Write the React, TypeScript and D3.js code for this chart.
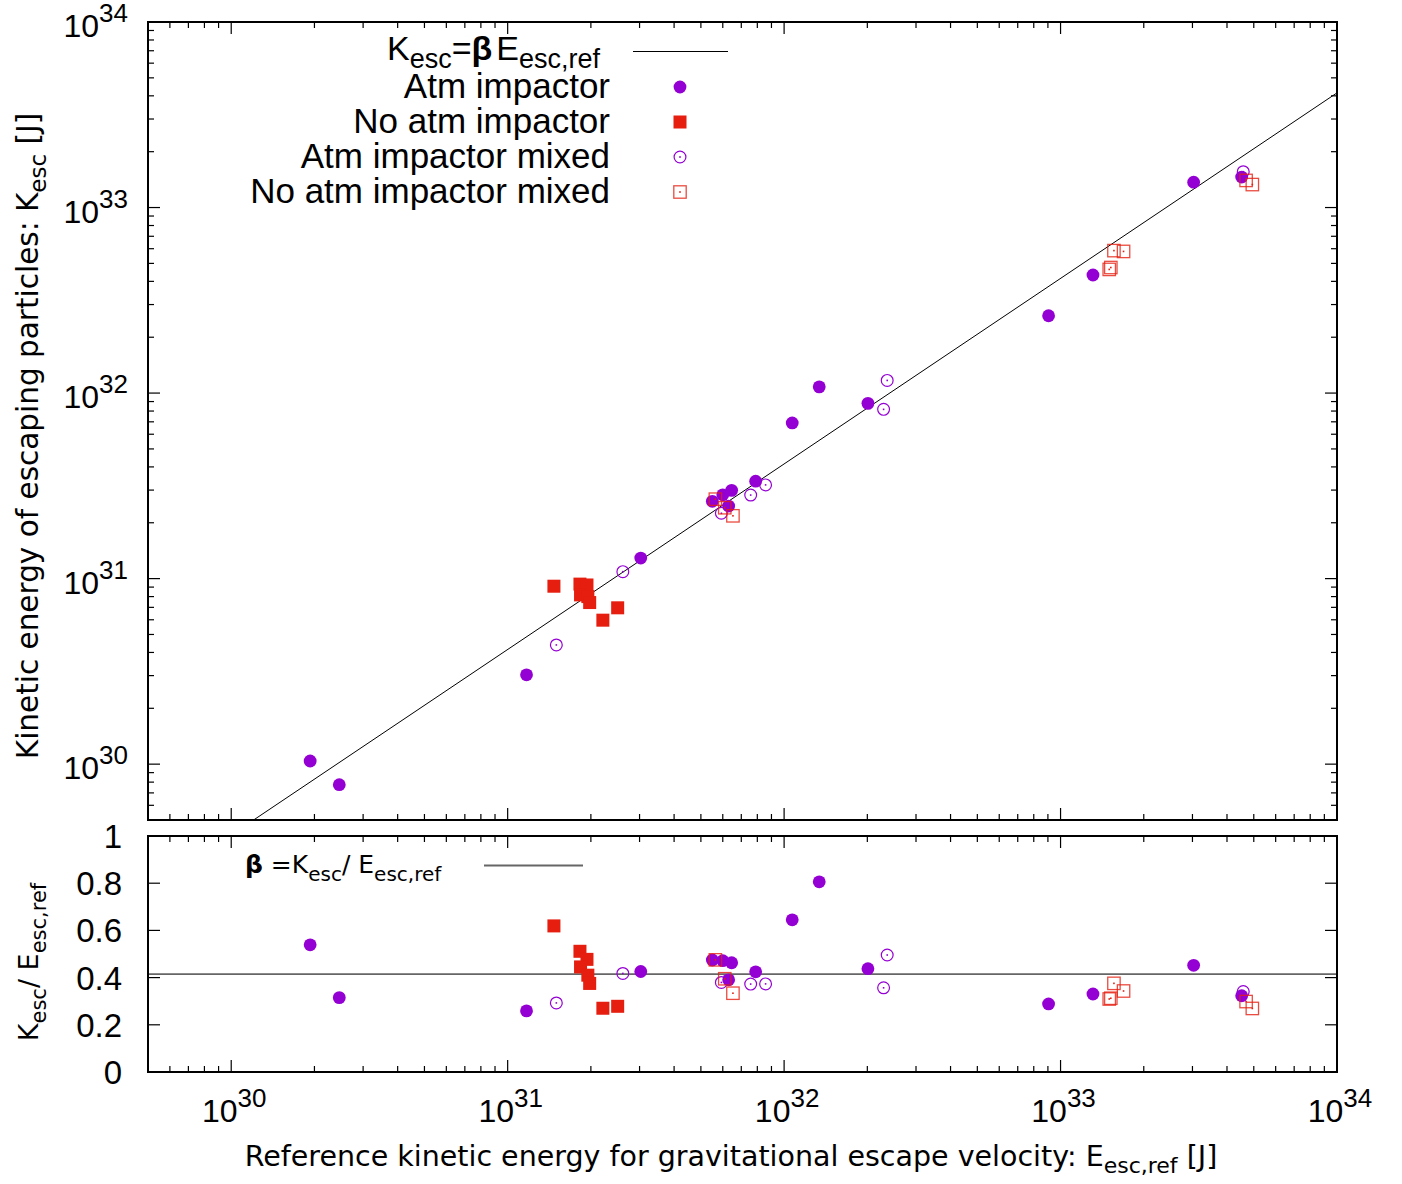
import React from "react";
import * as d3 from "d3";

// ---------- data ----------
const beta = 0.415;

const atmE = [1.93e30, 2.46e30, 1.17e31, 3.03e31, 5.5e31, 6.0e31, 6.46e31, 6.3e31, 7.89e31, 1.07e32, 1.34e32, 2.01e32, 9.05e32, 1.31e33, 3.03e33, 4.52e33];
const atmK = [1.04e30, 7.75e29, 3.03e30, 1.29e31, 2.61e31, 2.83e31, 2.99e31, 2.46e31, 3.35e31, 6.9e31, 1.08e32, 8.8e31, 2.61e32, 4.33e32, 1.37e33, 1.46e33];

const noAtmE = [1.47e31, 1.826e31, 1.936e31, 1.835e31, 1.95e31, 1.98e31, 2.21e31, 2.5e31];
const noAtmK = [9.1e30, 9.34e30, 9.24e30, 8.17e30, 8.0e30, 7.43e30, 5.97e30, 6.96e30];

const atmMixE = [1.5e31, 2.61e31, 5.93e31, 7.57e31, 8.57e31, 2.36e32, 2.29e32, 4.58e33];
const atmMixK = [4.39e30, 1.09e31, 2.25e31, 2.82e31, 3.2e31, 1.17e32, 8.17e31, 1.56e33];

const noAtmMixE = [5.64e31, 6.1e31, 6.53e31, 1.56e33, 1.69e33, 1.52e33, 1.5e33, 4.69e33, 4.94e33];
const noAtmMixK = [2.68e31, 2.41e31, 2.18e31, 5.86e32, 5.8e32, 4.75e32, 4.64e32, 1.4e33, 1.33e33];

const decadeExps = [30, 31, 32, 33, 34];
const ratioTicks = [0, 0.2, 0.4, 0.6, 0.8, 1];
const ratioTickLabels = ["0", "0.2", "0.4", "0.6", "0.8", "1"];

const legendLabels = ["Atm impactor", "No atm impactor", "Atm impactor mixed", "No atm impactor mixed"];

// ---------- layout ----------
const W = 1402, H = 1184;
const L = 148, R = 1337;
const T1 = 22, B1 = 820;
const T2 = 836, B2 = 1072;

const PURPLE = "#9400d3";
const RED = "#e51e10";
const TICKFONT = "'Liberation Sans', Arial, sans-serif";
const LABELFONT = "'DejaVu Sans', Verdana, sans-serif";

const x = d3.scaleLog().domain([5e29, 1e34]).range([L, R]);
const y = d3.scaleLog().domain([5e29, 1e34]).range([B1, T1]);
const yr = d3.scaleLinear().domain([0, 1]).range([B2, T2]);

const minorX: number[] = [];
for (let d = 29; d <= 33; d++) {
  for (let m = 2; m <= 9; m++) {
    const v = m * Math.pow(10, d);
    if (v >= 5e29 && v <= 1e34) minorX.push(v);
  }
}
const minorY = minorX;

const zip = (a: number[], b: number[]) => a.map((e, i) => ({ e, k: b[i] }));
const atm = zip(atmE, atmK);
const noAtm = zip(noAtmE, noAtmK);
const atmMix = zip(atmMixE, atmMixK);
const noAtmMix = zip(noAtmMixE, noAtmMixK);

const FilledCircle = ({ cx, cy }: { cx: number; cy: number }) => <circle cx={cx} cy={cy} r={6.4} fill={PURPLE} />;
const FilledSquare = ({ cx, cy }: { cx: number; cy: number }) => (
  <rect x={cx - 6.5} y={cy - 6.5} width={13} height={13} fill={RED} />
);
const OpenCircle = ({ cx, cy }: { cx: number; cy: number }) => (
  <g>
    <circle cx={cx} cy={cy} r={5.9} fill="none" stroke={PURPLE} strokeWidth={1.2} />
    <rect x={cx - 0.8} y={cy - 0.8} width={1.6} height={1.6} fill={PURPLE} />
  </g>
);
const OpenSquare = ({ cx, cy }: { cx: number; cy: number }) => (
  <g>
    <rect x={cx - 6.2} y={cy - 6.2} width={12.4} height={12.4} fill="none" stroke={RED} strokeWidth={1.3} strokeOpacity={0.8} />
    <rect x={cx - 0.8} y={cy - 0.8} width={1.6} height={1.6} fill={RED} />
  </g>
);

const Pow = ({ px, py, exp, anchor }: { px: number; py: number; exp: number; anchor: string }) => (
  <text x={px} y={py} textAnchor={anchor} fontFamily={TICKFONT} fontSize={32} fill="#000">
    <tspan>10</tspan>
    <tspan dy={-15} fontSize={26}>{exp}</tspan>
  </text>
);

function Markers({ pts, ratio, Comp }: { pts: { e: number; k: number }[]; ratio: boolean; Comp: any }) {
  return (
    <g>
      {pts.map((p, i) => (
        <Comp key={i} cx={x(p.e)} cy={ratio ? yr(p.k / p.e) : y(p.k)} />
      ))}
    </g>
  );
}

export default function App() {
  const lineE0 = 5e29 / beta;
  const fitLine = d3.line<number>()
    .x((e) => x(e))
    .y((e) => y(beta * e))([lineE0, 1e34]);

  const major = 12, minor = 6;

  return (
    <svg width={W} height={H} style={{ position: "absolute", left: 0, top: 0, background: "#fff" }}>
      <rect x={0} y={0} width={W} height={H} fill="#fff" />
      <defs>
        <clipPath id="c1"><rect x={L} y={T1} width={R - L} height={B1 - T1} /></clipPath>
        <clipPath id="c2"><rect x={L} y={T2} width={R - L} height={B2 - T2} /></clipPath>
      </defs>

      {/* ---------- ticks ---------- */}
      <g stroke="#000" strokeWidth={1.2}>
        {decadeExps.map((d) => {
          const px = x(Math.pow(10, d));
          return (
            <g key={"tx" + d}>
              <line x1={px} x2={px} y1={B1} y2={B1 - major} />
              <line x1={px} x2={px} y1={T1} y2={T1 + major} />
              <line x1={px} x2={px} y1={B2} y2={B2 - major} />
              <line x1={px} x2={px} y1={T2} y2={T2 + major} />
            </g>
          );
        })}
        {minorX.map((v, i) => {
          const px = x(v);
          return (
            <g key={"mx" + i}>
              <line x1={px} x2={px} y1={B1} y2={B1 - minor} />
              <line x1={px} x2={px} y1={T1} y2={T1 + minor} />
              <line x1={px} x2={px} y1={B2} y2={B2 - minor} />
              <line x1={px} x2={px} y1={T2} y2={T2 + minor} />
            </g>
          );
        })}
        {decadeExps.map((d) => {
          const py = y(Math.pow(10, d));
          return (
            <g key={"ty" + d}>
              <line x1={L} x2={L + major} y1={py} y2={py} />
              <line x1={R} x2={R - major} y1={py} y2={py} />
            </g>
          );
        })}
        {minorY.map((v, i) => {
          const py = y(v);
          return (
            <g key={"my" + i}>
              <line x1={L} x2={L + minor} y1={py} y2={py} />
              <line x1={R} x2={R - minor} y1={py} y2={py} />
            </g>
          );
        })}
        {ratioTicks.map((v, i) => {
          const py = yr(v);
          return (
            <g key={"ry" + i}>
              <line x1={L} x2={L + major} y1={py} y2={py} />
              <line x1={R} x2={R - major} y1={py} y2={py} />
            </g>
          );
        })}
      </g>

      {/* ---------- tick labels ---------- */}
      {decadeExps.map((d) => (
        <Pow key={"ly" + d} px={128} py={y(Math.pow(10, d)) + 15} exp={d} anchor="end" />
      ))}
      {decadeExps.map((d) => (
        <Pow key={"lx" + d} px={x(Math.pow(10, d)) + 3} py={1122} exp={d} anchor="middle" />
      ))}
      {ratioTicks.map((v, i) => (
        <text key={"lr" + i} x={122} y={yr(v) + 12} textAnchor="end" fontFamily={TICKFONT} fontSize={33}>
          {ratioTickLabels[i]}
        </text>
      ))}

      {/* ---------- top panel data ---------- */}
      <g clipPath="url(#c1)">
        <path d={fitLine || ""} fill="none" stroke="#000" strokeWidth={1} />
        <Markers pts={atm} ratio={false} Comp={FilledCircle} />
        <Markers pts={noAtm} ratio={false} Comp={FilledSquare} />
        <Markers pts={atmMix} ratio={false} Comp={OpenCircle} />
        <Markers pts={noAtmMix} ratio={false} Comp={OpenSquare} />
      </g>

      {/* ---------- bottom panel data ---------- */}
      <g clipPath="url(#c2)">
        <line x1={L} x2={R} y1={yr(beta)} y2={yr(beta)} stroke="#666" strokeWidth={1.8} />
        <Markers pts={atm} ratio={true} Comp={FilledCircle} />
        <Markers pts={noAtm} ratio={true} Comp={FilledSquare} />
        <Markers pts={atmMix} ratio={true} Comp={OpenCircle} />
        <Markers pts={noAtmMix} ratio={true} Comp={OpenSquare} />
      </g>

      {/* ---------- frames ---------- */}
      <rect x={L} y={T1} width={R - L} height={B1 - T1} fill="none" stroke="#000" strokeWidth={2} />
      <rect x={L} y={T2} width={R - L} height={B2 - T2} fill="none" stroke="#000" strokeWidth={2} />

      {/* ---------- top legend ---------- */}
      <g fontFamily={TICKFONT} fill="#000">
        <text x={600} y={60} textAnchor="end" fontSize={34}>
          <tspan>K</tspan>
          <tspan fontSize={27} dy={8}>esc</tspan>
          <tspan dy={-8}>=</tspan>
          <tspan fontWeight="bold">β</tspan>
          <tspan dx={4}>E</tspan>
          <tspan fontSize={27} dy={8}>esc,ref</tspan>
        </text>
        <line x1={633} x2={728} y1={51.5} y2={51.5} stroke="#000" strokeWidth={1} />
        {legendLabels.map((lab, i) => (
          <text key={lab} x={610} y={98 + i * 35} textAnchor="end" fontSize={35}>{lab}</text>
        ))}
        <FilledCircle cx={680} cy={87} />
        <FilledSquare cx={680} cy={122} />
        <OpenCircle cx={680} cy={157} />
        <OpenSquare cx={680} cy={192} />
      </g>

      {/* ---------- bottom legend ---------- */}
      <g fontFamily={LABELFONT} fill="#000">
        <text x={245} y={873} fontSize={25}>
          <tspan fontWeight="bold">β</tspan>
          <tspan> =K</tspan>
          <tspan fontSize={20} dy={8}>esc</tspan>
          <tspan dy={-8}>/ E</tspan>
          <tspan fontSize={20} dy={8}>esc,ref</tspan>
        </text>
        <line x1={484} x2={583} y1={865.5} y2={865.5} stroke="#666" strokeWidth={1.8} />
      </g>

      {/* ---------- axis titles ---------- */}
      <text x={731} y={1166} textAnchor="middle" fontFamily={LABELFONT} fontSize={28.5}>
        <tspan>Reference kinetic energy for gravitational escape velocity: E</tspan>
        <tspan fontSize={22} dy={7}>esc,ref</tspan>
        <tspan dy={-7}> [J]</tspan>
      </text>
      <text transform="translate(38,436) rotate(-90)" textAnchor="middle" fontFamily={LABELFONT} fontSize={29.5}>
        <tspan>Kinetic energy of escaping particles: K</tspan>
        <tspan fontSize={23} dy={8}>esc</tspan>
        <tspan dy={-8}> [J]</tspan>
      </text>
      <text transform="translate(38,962) rotate(-90)" textAnchor="middle" fontFamily={LABELFONT} fontSize={27}>
        <tspan>K</tspan>
        <tspan fontSize={21} dy={8}>esc</tspan>
        <tspan dy={-8}>/ E</tspan>
        <tspan fontSize={21} dy={8}>esc,ref</tspan>
      </text>
    </svg>
  );
}
